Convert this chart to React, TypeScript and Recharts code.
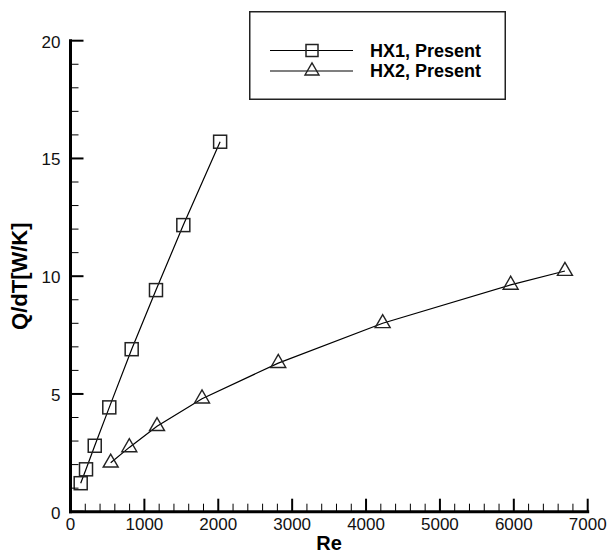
import React from 'react';
import { LineChart, Line, XAxis, YAxis, Legend, Label } from 'recharts';

// Re vs Q/dT readings
const hx1Re = [138, 210, 328, 525, 828, 1157, 1527, 2025];
const hx1Q = [1.21, 1.8, 2.8, 4.43, 6.9, 9.41, 12.17, 15.71];
const hx2Re = [544, 796, 1171, 1780, 2812, 4225, 5957, 6692];
const hx2Q = [2.08, 2.73, 3.63, 4.8, 6.31, 8.0, 9.63, 10.22];

const xTicks = Array.from({ length: 36 }, (_, i) => i * 200);
const yTicks = Array.from({ length: 21 }, (_, i) => i);

const hx1 = hx1Re.map((x, i) => ({ x, y: hx1Q[i] }));
const hx2 = hx2Re.map((x, i) => ({ x, y: hx2Q[i] }));

const FONT = '"Liberation Sans", Arial, sans-serif';

const Square = ({ cx, cy, size = 13 }: any) => (
  <rect x={cx - size / 2} y={cy - size / 2} width={size} height={size} fill="none" stroke="#222" strokeWidth={1.5} />
);

const Triangle = ({ cx, cy, w = 15, h = 13 }: any) => (
  <polygon
    points={`${cx - w / 2},${cy + h / 3} ${cx + w / 2},${cy + h / 3} ${cx},${cy - (2 * h) / 3}`}
    fill="none"
    stroke="#222"
    strokeWidth={1.4}
  />
);

const XTick = ({ x, y, payload }: any) => {
  const major = payload.value % 1000 === 0;
  return (
    <g>
      <line x1={x} x2={x} y1={y} y2={y - (major ? 13 : 8)} stroke="#000" strokeWidth={major ? 2 : 1} />
      {major && (
        <text x={x} y={y + 13} textAnchor="middle" dominantBaseline="central" fontFamily={FONT} fontSize={17} fill="#111">
          {payload.value}
        </text>
      )}
    </g>
  );
};

const YTick = ({ x, y, payload }: any) => {
  const major = payload.value % 5 === 0;
  return (
    <g>
      <line x1={x} x2={x + (major ? 13 : 8)} y1={y} y2={y} stroke="#000" strokeWidth={major ? 2 : 1} />
      {major && (
        <text x={x - 10} y={y + 1.5} textAnchor="end" dominantBaseline="central" fontFamily={FONT} fontSize={17} fill="#111">
          {payload.value}
        </text>
      )}
    </g>
  );
};

const LegendBox = () => (
  <svg width={257} height={89} style={{ display: 'block' }}>
    <rect x={0.75} y={0.75} width={255.5} height={87.5} fill="#fff" stroke="#222" strokeWidth={1.5} />
    <line x1={21} x2={104} y1={39.5} y2={39.5} stroke="#000" strokeWidth={1.2} />
    <Square cx={63} cy={39.5} size={12} />
    <text x={121} y={39.5} dominantBaseline="central" fontFamily={FONT} fontWeight="bold" fontSize={18} fill="#000">
      HX1, Present
    </text>
    <line x1={21} x2={104} y1={60} y2={60} stroke="#000" strokeWidth={1.2} />
    <Triangle cx={63} cy={60} w={14} h={12} />
    <text x={121} y={60} dominantBaseline="central" fontFamily={FONT} fontWeight="bold" fontSize={18} fill="#000">
      HX2, Present
    </text>
  </svg>
);

export default function App() {
  return (
    <div style={{ position: 'absolute', left: 0, top: 0, background: '#fff' }}>
      <LineChart width={610} height={555} margin={{ top: 40.7, right: 22.3, bottom: 13.3, left: 30.5 }}>
        <XAxis
          dataKey="x"
          type="number"
          domain={[0, 7000]}
          ticks={xTicks}
          interval={0}
          height={30}
          tickSize={0}
          tickMargin={0}
          tick={<XTick />}
          axisLine={{ stroke: '#000', strokeWidth: 3, strokeLinecap: 'square' }}
        >
          <Label
            content={({ viewBox }: any) => (
              <text
                x={viewBox.x + viewBox.width / 2}
                y={543}
                textAnchor="middle"
                dominantBaseline="central"
                fontFamily={FONT}
                fontWeight="bold"
                fontSize={20}
                fill="#000"
              >
                Re
              </text>
            )}
          />
        </XAxis>
        <YAxis
          dataKey="y"
          type="number"
          domain={[0, 20]}
          ticks={yTicks}
          interval={0}
          width={40}
          tickSize={0}
          tickMargin={0}
          tick={<YTick />}
          axisLine={{ stroke: '#000', strokeWidth: 3, strokeLinecap: 'square' }}
        >
          <Label
            content={({ viewBox }: any) => {
              const cy = viewBox.y + viewBox.height / 2;
              return (
                <text
                  x={20}
                  y={cy}
                  transform={`rotate(-90, 20, ${cy})`}
                  textAnchor="middle"
                  dominantBaseline="central"
                  fontFamily={FONT}
                  fontWeight="bold"
                  fontSize={22}
                  fill="#000"
                >
                  Q/dT[W/K]
                </text>
              );
            }}
          />
        </YAxis>
        <Legend
          layout="horizontal"
          verticalAlign="middle"
          align="center"
          content={() => <LegendBox />}
          wrapperStyle={{ position: 'absolute', left: 249, top: 11, width: 257, height: 89 }}
        />
        <Line
          data={hx1}
          dataKey="y"
          name="HX1, Present"
          stroke="#000"
          strokeWidth={1.2}
          isAnimationActive={false}
          dot={(p: any) => <Square key={`s-${p.index}`} cx={p.cx} cy={p.cy} />}
          activeDot={false}
        />
        <Line
          data={hx2}
          dataKey="y"
          name="HX2, Present"
          stroke="#000"
          strokeWidth={1.2}
          isAnimationActive={false}
          dot={(p: any) => <Triangle key={`t-${p.index}`} cx={p.cx} cy={p.cy} />}
          activeDot={false}
        />
      </LineChart>
    </div>
  );
}
